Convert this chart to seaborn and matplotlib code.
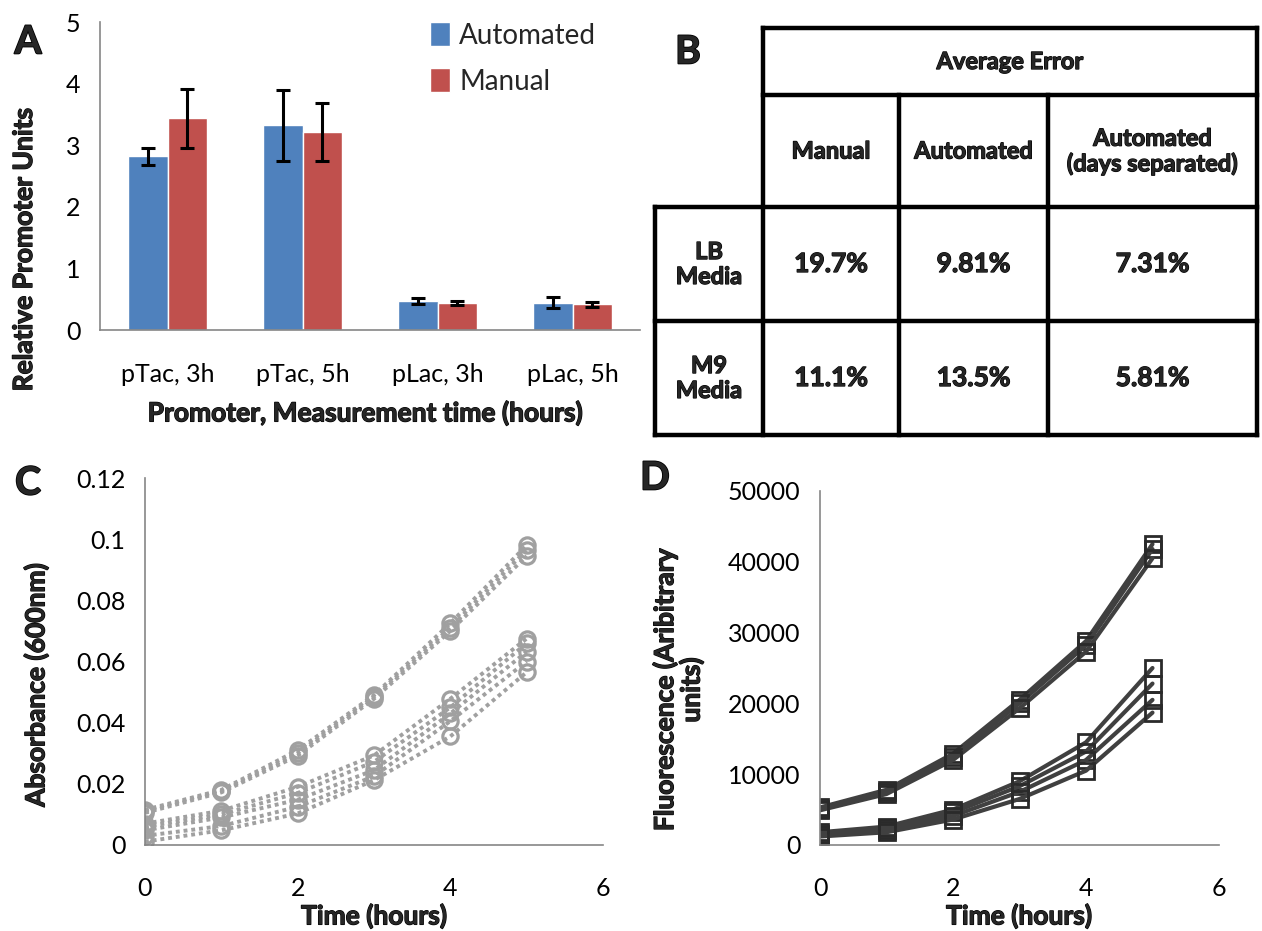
import numpy as np
import pandas as pd
import matplotlib
matplotlib.use("Agg")
import matplotlib.pyplot as plt
import matplotlib.patheffects as pe
import seaborn as sns

# ---------------- Panel A data ----------------
promoters = ["pTac, 3h", "pTac, 5h", "pLac, 3h", "pLac, 5h"]
methods = ["Automated", "Manual"]
automated_vals = [2.82, 3.32, 0.47, 0.44]
automated_err = [0.14, 0.58, 0.055, 0.09]
manual_vals = [3.44, 3.21, 0.44, 0.42]
manual_err = [0.48, 0.47, 0.03, 0.04]
bar_colors = ["#4F81BD", "#C0504D"]

# ---------------- Panel B data ----------------
table_header = "Average Error"
table_cols = ["Manual", "Automated", "Automated\n(days separated)"]
table_rows = ["LB\nMedia", "M9\nMedia"]
lb_errors = ["19.7%", "9.81%", "7.31%"]
m9_errors = ["11.1%", "13.5%", "5.81%"]

# ---------------- Panel C data (absorbance) ----------------
time_h = [0, 1, 2, 3, 4, 5]
abs_u1 = [0.0115, 0.0180, 0.0310, 0.0490, 0.0725, 0.0980]
abs_u2 = [0.0110, 0.0176, 0.0300, 0.0485, 0.0710, 0.0965]
abs_u3 = [0.0105, 0.0172, 0.0292, 0.0478, 0.0700, 0.0945]
abs_l1 = [0.0070, 0.0112, 0.0190, 0.0293, 0.0478, 0.0675]
abs_l2 = [0.0060, 0.0100, 0.0170, 0.0272, 0.0450, 0.0660]
abs_l3 = [0.0048, 0.0090, 0.0148, 0.0245, 0.0430, 0.0632]
abs_l4 = [0.0030, 0.0062, 0.0125, 0.0225, 0.0405, 0.0600]
abs_l5 = [0.0011, 0.0048, 0.0103, 0.0212, 0.0355, 0.0565]
abs_series = [abs_u1, abs_u2, abs_u3, abs_l1, abs_l2, abs_l3, abs_l4, abs_l5]

# ---------------- Panel D data (fluorescence) ----------------
fl_u1 = [5300, 7800, 12900, 20500, 28800, 42500]
fl_u2 = [5100, 7500, 12500, 20000, 28200, 41800]
fl_u3 = [4900, 7200, 12000, 19300, 27300, 40500]
fl_l1 = [1800, 2600, 5000, 9000, 14500, 25000]
fl_l2 = [1600, 2400, 4600, 8300, 13200, 22800]
fl_l3 = [1400, 2100, 4100, 7500, 12000, 20500]
fl_l4 = [1200, 1800, 3600, 6500, 10500, 18700]
fl_series = [fl_u1, fl_u2, fl_u3, fl_l1, fl_l2, fl_l3, fl_l4]

c_yticks = [0, 0.02, 0.04, 0.06, 0.08, 0.1, 0.12]
d_yticks = [0, 10000, 20000, 30000, 40000, 50000]
time_ticks = [0, 2, 4, 6]

sns.set_style("white")
plt.rcParams['font.family'] = ['Lato', 'DejaVu Sans']

W, H = 1262, 931
fig = plt.figure(figsize=(W / 100, H / 100), dpi=100)
AX_GRAY = "#868686"
TICK_FS = 18
LAB_FS = 19
HEAVY = "bold"
THICK = [pe.withStroke(linewidth=0.9, foreground="black")]


def px_axes(l, t, r, b):
    return fig.add_axes([l / W, 1 - b / H, (r - l) / W, (b - t) / H])


def style_axes(ax):
    sns.despine(ax=ax)
    for s in ["left", "bottom"]:
        ax.spines[s].set_color(AX_GRAY)
        ax.spines[s].set_linewidth(1.2)
    ax.tick_params(colors=AX_GRAY, labelcolor="black", labelsize=TICK_FS, width=1.2)


def label_pos(ax, axis, px, l, t, r, b):
    """Place axis label centre at a pixel position (layout helper)."""
    x, y = px
    fx = (x - l) / (r - l)
    fy = (b - y) / (b - t)
    lab = ax.yaxis if axis == "y" else ax.xaxis
    lab.set_label_coords(fx, fy)
    lab.label.set_va("center")
    lab.label.set_path_effects(THICK)


# ================= Panel A =================
A_BOX = (100, 22, 640, 330)
axA = px_axes(*A_BOX)
dfA = pd.DataFrame({
    "Promoter": promoters * 2,
    "Method": [methods[0]] * len(promoters) + [methods[1]] * len(promoters),
    "Value": automated_vals + manual_vals,
})
sns.barplot(data=dfA, x="Promoter", y="Value", hue="Method", order=promoters,
            hue_order=methods, palette=bar_colors, width=0.58, errorbar=None,
            saturation=1, ax=axA)
for cont, errs in zip(axA.containers, [automated_err, manual_err]):
    xs = [p.get_x() + p.get_width() / 2 for p in cont]
    ys = [p.get_height() for p in cont]
    axA.errorbar(xs, ys, yerr=errs, fmt="none", ecolor="black", elinewidth=2.2,
                 capsize=5, capthick=2.2, zorder=5)
style_axes(axA)
axA.set_ylim(0, 5)
axA.set_yticks([0, 1, 2, 3, 4, 5])
axA.set_xlim(-0.5, len(promoters) - 0.5)
axA.set_xticks(range(len(promoters)))
axA.set_xticklabels(promoters)
axA.set_xticks(np.arange(-0.5, len(promoters), 1), minor=True)
axA.tick_params(axis="x", which="major", length=0, pad=24)
axA.tick_params(axis="x", which="minor", length=9, direction="out", color=AX_GRAY, width=1.2)
axA.tick_params(axis="y", length=8, direction="out", pad=6)
axA.set_ylabel("Relative Promoter Units", fontsize=LAB_FS, fontweight=HEAVY)
axA.set_xlabel("Promoter, Measurement time (hours)", fontsize=LAB_FS, fontweight=HEAVY)
label_pos(axA, "y", (24, 250), *A_BOX)
label_pos(axA, "x", (365, 413), *A_BOX)
handles, labels = axA.get_legend_handles_labels()
axA.legend(handles, labels, loc="upper left", bbox_to_anchor=(0.565, 1.08), frameon=False,
           fontsize=20, handlelength=0.7, handleheight=0.95, handletextpad=0.35,
           labelspacing=0.7)

# ================= Panel B (table) =================
axB = px_axes(655, 28, 1257, 435)
col_edges = [0, 108, 244, 393, 602]
row_edges = [0, 67, 179, 293, 407]
axB.set_xlim(col_edges[0], col_edges[-1])
axB.set_ylim(row_edges[-1], row_edges[0])
axB.axis("off")
lk = dict(color="black", lw=3.2, solid_capstyle="projecting", clip_on=False)
axB.plot([col_edges[1], col_edges[-1]], [row_edges[0]] * 2, **lk)
axB.plot([col_edges[1], col_edges[-1]], [row_edges[1]] * 2, **lk)
for r in row_edges[2:]:
    axB.plot([col_edges[0], col_edges[-1]], [r, r], **lk)
axB.plot([col_edges[0]] * 2, [row_edges[2], row_edges[-1]], **lk)
axB.plot([col_edges[1]] * 2, [row_edges[0], row_edges[-1]], **lk)
for c in col_edges[2:4]:
    axB.plot([c, c], [row_edges[1], row_edges[-1]], **lk)
axB.plot([col_edges[-1]] * 2, [row_edges[0], row_edges[-1]], **lk)
tk = dict(ha="center", va="center", fontweight=HEAVY, fontsize=17, linespacing=1.1,
          path_effects=THICK)
axB.text((col_edges[1] + col_edges[-1]) / 2, (row_edges[0] + row_edges[1]) / 2, table_header, **tk)
for j, name in enumerate(table_cols):
    axB.text((col_edges[j + 1] + col_edges[j + 2]) / 2, (row_edges[1] + row_edges[2]) / 2, name, **tk)
for i, (rname, vals) in enumerate(zip(table_rows, [lb_errors, m9_errors])):
    yc = (row_edges[i + 2] + row_edges[i + 3]) / 2
    axB.text((col_edges[0] + col_edges[1]) / 2, yc, rname, **tk)
    for j, v in enumerate(vals):
        axB.text((col_edges[j + 1] + col_edges[j + 2]) / 2, yc, v,
                 **{**tk, "fontsize": 19})

# ================= Panel C =================
C_BOX = (145, 478, 603, 845)
axC = px_axes(*C_BOX)
dfC = pd.DataFrame({
    "Time": time_h * len(abs_series),
    "Absorbance": np.concatenate(abs_series),
    "Series": np.repeat(np.arange(len(abs_series)), len(time_h)),
})
sns.lineplot(data=dfC, x="Time", y="Absorbance", hue="Series",
             palette=["#A0A0A0"] * len(abs_series), legend=False, ax=axC,
             linestyle=(0, (1, 1)), linewidth=2.8, marker="o", markersize=11,
             markerfacecolor="none", markeredgecolor="#A0A0A0", markeredgewidth=2.3)
style_axes(axC)
axC.set_ylim(0, 0.12)
axC.set_yticks(c_yticks)
axC.set_yticklabels([f"{v:g}" for v in c_yticks])
axC.set_xlim(0, 6)
axC.set_xticks(time_ticks)
axC.tick_params(axis="x", length=9, direction="out", pad=14)
axC.tick_params(axis="y", length=8, direction="out", pad=6)
axC.set_ylabel("Absorbance (600nm)", fontsize=LAB_FS, fontweight=HEAVY)
axC.set_xlabel("Time (hours)", fontsize=LAB_FS, fontweight=HEAVY)
label_pos(axC, "y", (36, 685), *C_BOX)
label_pos(axC, "x", (374, 916), *C_BOX)

# ================= Panel D =================
D_BOX = (820, 491, 1219, 845)
axD = px_axes(*D_BOX)
dfD = pd.DataFrame({
    "Time": time_h * len(fl_series),
    "Fluorescence": np.concatenate(fl_series),
    "Series": np.repeat(np.arange(len(fl_series)), len(time_h)),
})
sns.lineplot(data=dfD, x="Time", y="Fluorescence", hue="Series",
             palette=["#404040"] * len(fl_series), legend=False, ax=axD,
             linestyle="-", linewidth=3, marker="s", markersize=12,
             markerfacecolor="none", markeredgecolor="#2a2a2a", markeredgewidth=2)
style_axes(axD)
axD.set_ylim(0, 50000)
axD.set_yticks(d_yticks)
axD.set_yticklabels([f"{v:d}" for v in d_yticks])
axD.set_xlim(0, 6)
axD.set_xticks(time_ticks)
axD.tick_params(axis="x", length=9, direction="out", pad=14)
axD.tick_params(axis="y", length=8, direction="out", pad=6)
axD.set_ylabel("Fluorescence (Aribitrary\nunits)", fontsize=LAB_FS, fontweight=HEAVY,
               linespacing=1.05)
axD.set_xlabel("Time (hours)", fontsize=LAB_FS, fontweight=HEAVY)
label_pos(axD, "y", (678, 690), *D_BOX)
label_pos(axD, "x", (1019, 916), *D_BOX)

# ================= Panel letters =================
for letter, (x, y) in zip("ABCD", [(28, 42), (688, 52), (28, 483), (655, 478)]):
    fig.text(x / W, 1 - y / H, letter, fontsize=28, fontweight=HEAVY, ha="center", va="center",
             path_effects=[pe.withStroke(linewidth=1.2, foreground="black")])

fig.savefig("out.png", dpi=100)
